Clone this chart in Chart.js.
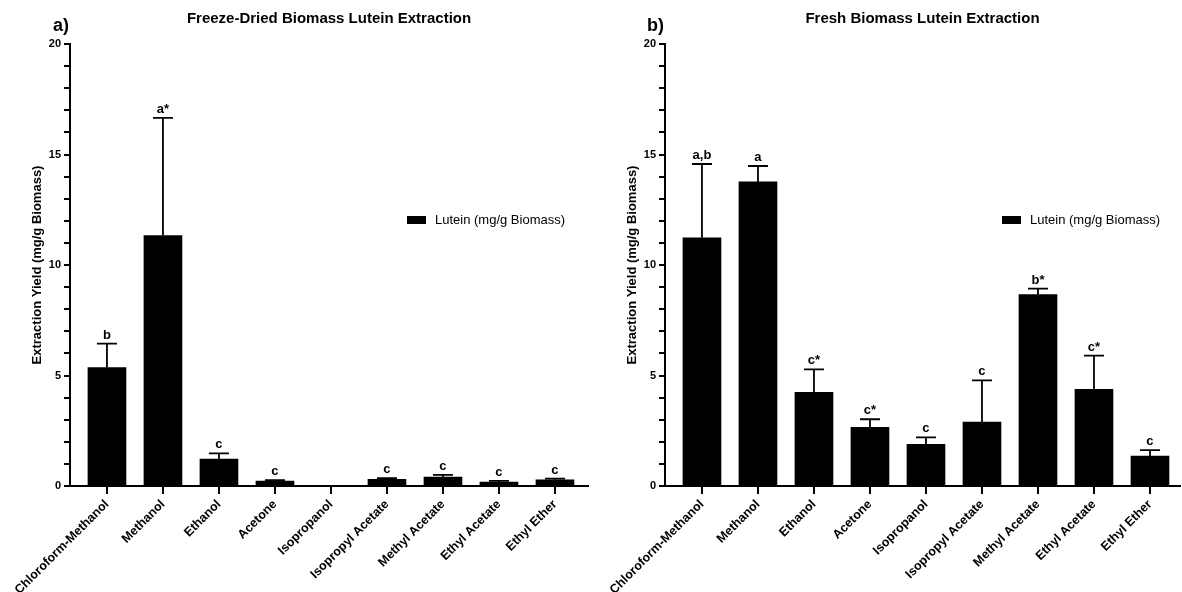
<!DOCTYPE html>
<html lang="en">
<head>
<meta charset="UTF-8" />
<title>Lutein Extraction</title>
<script src="https://cdn.jsdelivr.net/npm/chart.js"></script>
<style>
  body { margin: 0; background: #fff; }
  #wrap { position: relative; width: 1182px; height: 592px; }
  canvas { position: absolute; top: 0; }
</style>
</head>
<body>
<div id="wrap">
  <canvas id="left" width="590" height="592" style="left:0"></canvas>
  <canvas id="right" width="592" height="592" style="left:590px"></canvas>
</div>
<script>
const solvents = ['Chloroform-Methanol', 'Methanol', 'Ethanol', 'Acetone', 'Isopropanol',
                  'Isopropyl Acetate', 'Methyl Acetate', 'Ethyl Acetate', 'Ethyl Ether'];

// a) freeze-dried biomass
const freezeDried = [5.36, 11.33, 1.22, 0.22, 0, 0.3, 0.4, 0.18, 0.28];
const freezeDriedErr = [1.08, 5.33, 0.26, 0.05, 0, 0.06, 0.1, 0.05, 0.05];
const freezeDriedLetters = ['b', 'a*', 'c', 'c', '', 'c', 'c', 'c', 'c'];

// b) fresh biomass
const fresh = [11.23, 13.76, 4.24, 2.66, 1.89, 2.89, 8.66, 4.37, 1.35];
const freshErr = [3.34, 0.72, 1.04, 0.36, 0.31, 1.89, 0.27, 1.53, 0.27];
const freshLetters = ['a,b', 'a', 'c*', 'c*', 'c', 'c', 'b*', 'c*', 'c'];

const FONT = "'Liberation Sans', Arial, sans-serif";
Chart.defaults.font.family = FONT;
Chart.defaults.color = '#000';

// error bars + significance letters, drawn through the scales
const errorBars = {
  id: 'errorBars',
  afterDatasetsDraw(chart) {
    const ds = chart.data.datasets[0];
    const xs = chart.scales.x, ys = chart.scales.y;
    const ctx = chart.ctx;
    ctx.save();
    ctx.strokeStyle = '#000';
    ctx.lineWidth = 1.8;
    ctx.fillStyle = '#000';
    ctx.font = 'bold 13px ' + FONT;
    ctx.textAlign = 'center';
    ctx.textBaseline = 'alphabetic';
    ds.data.forEach((pt, i) => {
      const px = xs.getPixelForValue(pt.x);
      const top = ys.getPixelForValue(pt.y + ds.errors[i]);
      if (ds.errors[i] > 0) {
        const base = ys.getPixelForValue(pt.y);
        ctx.beginPath();
        ctx.moveTo(px, base);
        ctx.lineTo(px, top);
        ctx.moveTo(px - 10, top);
        ctx.lineTo(px + 10, top);
        ctx.stroke();
      }
      if (ds.letters[i]) ctx.fillText(ds.letters[i], px, top - 5);
    });
    ctx.restore();
  }
};

// panel letter, title and the legend placed inside the plot
const panelText = {
  id: 'panelText',
  afterDraw(chart, args, opts) {
    const { ctx, chartArea } = chart;
    ctx.save();
    ctx.fillStyle = '#000';
    ctx.textBaseline = 'middle';
    ctx.font = 'bold 15px ' + FONT;
    ctx.textAlign = 'center';
    ctx.fillText(opts.text, (chartArea.left + chartArea.right) / 2, 19);
    ctx.font = 'bold 18px ' + FONT;
    ctx.textAlign = 'right';
    ctx.fillText(opts.letter, chartArea.left - 1, 26);
    // legend
    const lx = chartArea.left + 337;
    ctx.fillRect(lx, 216, 19, 8);
    ctx.font = '13px ' + FONT;
    ctx.textAlign = 'left';
    ctx.fillText(chart.data.datasets[0].label, lx + 28, 220);
    ctx.restore();
  }
};

function makeChart(id, values, errors, letters, title, letter, axisWidth, xMax, titlePad, padRight) {
  return new Chart(document.getElementById(id), {
    type: 'bar',
    data: {
      datasets: [{
        label: 'Lutein (mg/g Biomass)',
        data: values.map((v, i) => ({ x: i, y: v })),
        errors: errors,
        letters: letters,
        backgroundColor: '#000',
        borderWidth: 0,
        barThickness: 38
      }]
    },
    plugins: [errorBars, panelText],
    options: {
      responsive: false,
      animation: false,
      layout: { padding: { top: 44, right: padRight, left: 0, bottom: 0 } },
      plugins: {
        legend: { display: false },
        tooltip: { enabled: false },
        panelText: { text: title, letter: letter }
      },
      scales: {
        x: {
          type: 'linear',
          min: -0.66,
          max: xMax,
          offset: false,
          border: { color: '#000', width: 2 },
          grid: { offset: false, drawOnChartArea: false, color: '#000', lineWidth: 2, tickLength: 8 },
          ticks: {
            stepSize: 1,
            includeBounds: false,
            autoSkip: false,
            maxRotation: 45,
            minRotation: 45,
            padding: 3,
            color: '#000',
            font: { size: 12.5, weight: 'bold' },
            callback: v => solvents[v]
          },
          afterFit: s => { s.height = 106; }
        },
        y: {
          min: 0,
          max: 20,
          border: { color: '#000', width: 2 },
          grid: { drawOnChartArea: false, color: '#000', lineWidth: 2, tickLength: 6 },
          ticks: {
            stepSize: 1,
            autoSkip: false,
            padding: 3,
            color: '#000',
            font: { size: 11, weight: 'bold' },
            callback: v => (v % 5 === 0 ? v : '')
          },
          title: {
            display: true,
            text: 'Extraction Yield (mg/g Biomass)',
            color: '#000',
            font: { size: 13, weight: 'bold' },
            padding: { top: titlePad, bottom: 0 }
          },
          afterFit: s => { s.width = axisWidth; }
        }
      }
    }
  });
}

makeChart('left', freezeDried, freezeDriedErr, freezeDriedLetters,
  'Freeze-Dried Biomass Lutein Extraction', 'a)', 70, 8.59, 30, 2);
makeChart('right', fresh, freshErr, freshLetters,
  'Fresh Biomass Lutein Extraction', 'b)', 75, 8.536, 35, 2);
</script>
</body>
</html>
